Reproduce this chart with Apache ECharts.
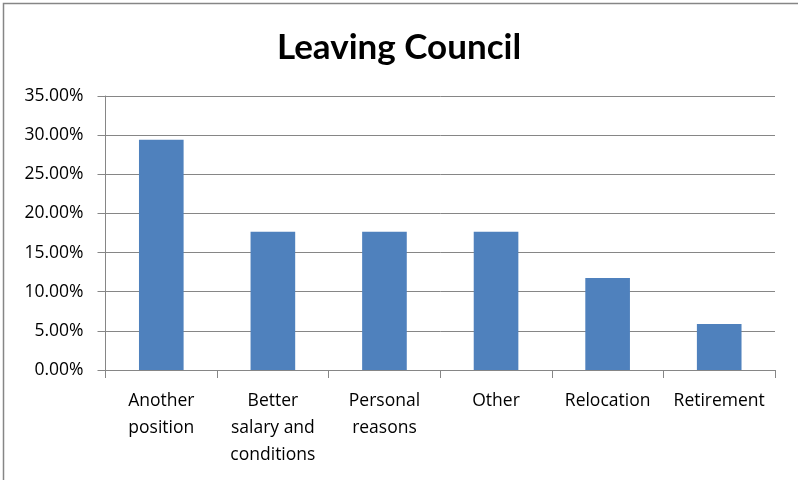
<!DOCTYPE html>
<html>
<head>
<meta charset="utf-8">
<script src="https://cdn.jsdelivr.net/npm/echarts@6/dist/echarts.min.js"></script>
<style>
  html, body { margin: 0; padding: 0; background: #fff; }
  #chart { width: 798px; height: 480px; }
</style>
</head>
<body>
<div id="chart"></div>
<script>
// Reasons given for leaving the council (share of leavers, %)
const categories = ['Another\nposition', 'Better\nsalary and\nconditions', 'Personal\nreasons', 'Other', 'Relocation', 'Retirement'];
const shares = [29.41, 17.65, 17.65, 17.65, 11.76, 5.88];
const yTicks = { min: 0, max: 35, step: 5 };

const gray = '#868686';
const labelFont = '"Open Sans", sans-serif';
const titleFont = 'Lato, "Open Sans", sans-serif';

const chart = echarts.init(document.getElementById('chart'));
chart.setOption({
  animation: false,
  title: {
    text: 'Leaving Council',
    left: 'center',
    top: 25,
    textStyle: { fontFamily: titleFont, fontWeight: 'bold', fontSize: 35, color: '#000' }
  },
  graphic: [{
    type: 'rect',
    shape: { x: 3.5, y: 3.5, width: 900, height: 900 },
    style: { fill: 'none', stroke: gray, lineWidth: 1.5 },
    silent: true
  }],
  grid: { left: 105.5, right: 23, top: 96, bottom: 110 },
  xAxis: {
    type: 'category',
    data: categories,
    axisLine: { lineStyle: { color: gray, width: 1 } },
    axisTick: { show: true, length: 8, lineStyle: { color: gray } },
    axisLabel: {
      interval: 0, margin: 18, color: '#000',
      fontFamily: labelFont, fontSize: 17.5, lineHeight: 27
    }
  },
  yAxis: {
    type: 'value',
    min: yTicks.min, max: yTicks.max, interval: yTicks.step,
    axisLine: { show: true, lineStyle: { color: gray, width: 1 } },
    axisTick: { show: true, length: 8, lineStyle: { color: gray } },
    splitLine: { lineStyle: { color: gray, width: 1 } },
    axisLabel: {
      margin: 22, color: '#000', fontFamily: labelFont, fontSize: 17.5,
      formatter: v => v.toFixed(2) + '%'
    }
  },
  series: [{
    type: 'bar',
    data: shares,
    barWidth: '40%',
    itemStyle: { color: '#4F81BD' }
  }]
});
</script>
</body>
</html>
